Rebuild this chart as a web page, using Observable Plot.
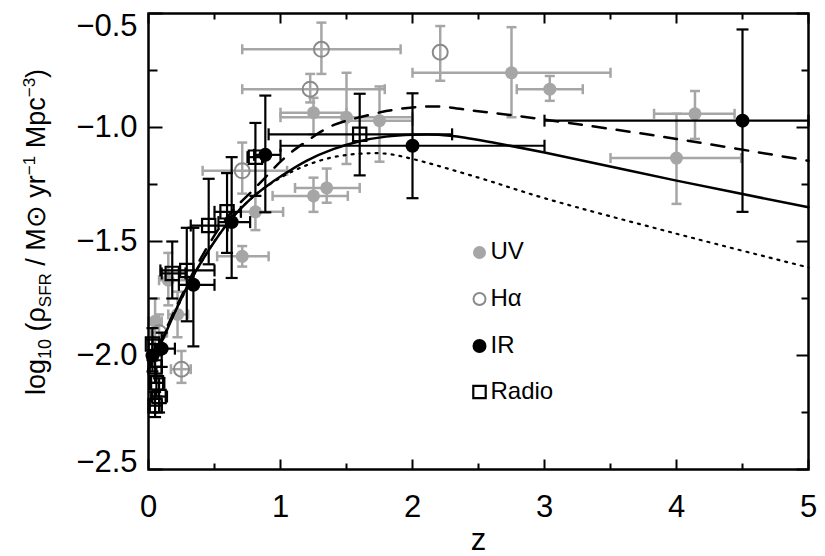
<!DOCTYPE html>
<html><head><meta charset="utf-8">
<script src="https://cdn.jsdelivr.net/npm/d3@7"></script>
<script src="https://cdn.jsdelivr.net/npm/@observablehq/plot@0.6"></script>
<style>body{margin:0;background:#fff}#chart{position:absolute;left:0;top:0}</style>
</head><body><div id="chart"></div><script>
// ---- UV (grey filled circles)
const uvZ   = [0.05, 0.15, 0.22, 0.71, 0.81, 1.25, 1.35, 1.25, 1.5, 1.75, 2.75, 3.04, 4.14, 4.0];
const uvV   = [-1.85, -1.67, -1.82, -1.565, -1.37, -1.30, -1.265, -0.935, -0.955, -0.97, -0.76, -0.832, -0.94, -1.134];
const uvZlo = [0.0, 0.08, 0.15, 0.52, 0.70, 0.94, 1.11, 1.0, 1.0, 1.5, 2.0, 2.79, 3.83, 3.5];
const uvZhi = [0.1, 0.3, 0.3, 0.91, 1.02, 1.51, 1.6, 1.5, 2.0, 2.0, 3.5, 3.29, 4.44, 4.49];
const uvVlo = [-1.95, -1.78, -1.92, -1.61, -1.45, -1.37, -1.33, -1.03, -1.16, -1.15, -0.955, -0.883, -1.05, -1.335];
const uvVhi = [-1.75, -1.55, -1.72, -1.52, -1.30, -1.22, -1.18, -0.87, -0.76, -0.82, -0.56, -0.774, -0.84, -0.94];
// ---- H-alpha (grey open circles)
const haZ   = [0.08, 0.25, 0.71, 1.225, 1.31, 2.21];
const haV   = [-1.9, -2.06, -1.19, -0.832, -0.657, -0.67];
const haZlo = [0.02, 0.17, 0.41, 0.71, 0.71, 2.21];
const haZhi = [0.14, 0.32, 1.05, 1.79, 1.91, 2.21];
const haVlo = [-1.98, -2.12, -1.29, -0.89, -0.765, -0.795];
const haVhi = [-1.82, -1.98, -1.066, -0.765, -0.54, -0.555];
// ---- IR (black filled circles)
const irZ   = [0.03, 0.10, 0.34, 0.63, 0.885, 2.0, 4.5];
const irV   = [-2.0, -1.97, -1.69, -1.415, -1.12, -1.08, -0.97];
const irZlo = [0.0, 0.05, 0.23, 0.53, 0.8, 1.0, 3.0];
const irZhi = [0.06, 0.2, 0.5, 0.77, 1.0, 3.0, 5.0];
const irVlo = [-2.07, -2.05, -1.96, -1.66, -1.372, -1.31, -1.37];
const irVhi = [-1.93, -1.9, -1.44, -1.13, -0.86, -0.85, -0.57];
// ---- Radio (black open squares)
const rdZ   = [0.03, 0.05, 0.06, 0.08, 0.05, 0.18, 0.29, 0.456, 0.595, 0.81, 1.6];
const rdV   = [-1.95, -2.05, -2.12, -2.18, -2.22, -1.64, -1.627, -1.43, -1.37, -1.13, -1.03];
const rdZlo = [0.0, 0.01, 0.02, 0.02, 0.01, 0.1, 0.09, 0.32, 0.5, 0.75, 0.91];
const rdZhi = [0.08, 0.1, 0.12, 0.14, 0.1, 0.28, 0.5, 0.6, 0.7, 0.87, 2.3];
const rdVlo = [-2.02, -2.12, -2.18, -2.25, -2.27, -1.75, -1.85, -1.6, -1.55, -1.3, -1.21];
const rdVhi = [-1.88, -1.98, -2.05, -2.1, -2.16, -1.5, -1.44, -1.225, -1.2, -0.98, -0.852];
// ---- model curves
const solidZ  = [0, 0.1, 0.2, 0.3, 0.4, 0.5, 0.6, 0.7, 0.8, 0.9, 1.0, 1.2, 1.4, 1.6, 1.8, 2.0, 2.2, 2.4, 2.6, 3.0, 4.0, 5.0];
const solidV  = [-2.06, -1.94, -1.81, -1.69, -1.59, -1.50, -1.42, -1.355, -1.30, -1.255, -1.215, -1.145, -1.095, -1.06, -1.04, -1.032, -1.032, -1.045, -1.065, -1.11, -1.233, -1.35];
const dashZ   = [0, 0.2, 0.4, 0.6, 0.8, 0.9, 1.0, 1.1, 1.2, 1.3, 1.4, 1.5, 1.6, 1.8, 2.0, 2.2, 2.45, 3.0, 4.0, 5.0];
const dashV   = [-2.06, -1.80, -1.57, -1.39, -1.27, -1.21, -1.15, -1.10, -1.06, -1.02, -0.99, -0.97, -0.955, -0.928, -0.912, -0.908, -0.925, -0.965, -1.05, -1.146];
const dotZ    = [0, 0.2, 0.4, 0.6, 0.8, 1.0, 1.2, 1.4, 1.6, 1.8, 2.0, 2.5, 3.0, 4.0, 5.0];
const dotV    = [-2.06, -1.81, -1.59, -1.42, -1.30, -1.22, -1.165, -1.13, -1.115, -1.115, -1.138, -1.22, -1.31, -1.466, -1.614];
// ---- axes
const xTickLabels = [0, 1, 2, 3, 4, 5];
const xMinor = [0.5, 1.5, 2.5, 3.5, 4.5];
const yTickLabels = [-2.5, -2.0, -1.5, -1.0, -0.5];
const yMinor = [-2.25, -1.75, -1.25, -0.75];
const legendLabels = ["UV", "H\u03b1", "IR", "Radio"];

const rows = (Z, V, ZL, ZH, VL, VH) => Z.map((z, i) => ({z, v: V[i], zlo: ZL[i], zhi: ZH[i], vlo: VL[i], vhi: VH[i]}));
const uv = rows(uvZ, uvV, uvZlo, uvZhi, uvVlo, uvVhi);
const ha = rows(haZ, haV, haZlo, haZhi, haVlo, haVhi);
const ir = rows(irZ, irV, irZlo, irZhi, irVlo, irVhi);
const rd = rows(rdZ, rdV, rdZlo, rdZhi, rdVlo, rdVhi);
const line = (Z, V) => Z.map((z, i) => ({z, v: V[i]}));

const seg = (dx, dy) => ({draw(ctx, size) { const L = Math.sqrt(size / Math.PI); ctx.moveTo(0, 0); ctx.lineTo(dx * L, dy * L); }});
const bar = (dx, dy) => ({draw(ctx, size) { const L = Math.sqrt(size / Math.PI); ctx.moveTo(-dx * L, -dy * L); ctx.lineTo(dx * L, dy * L); }});
const hcap = bar(1, 0), vcap = bar(0, 1);

function errorMarks(data, color, w, cap) {
  const hx = data.filter(d => d.zhi > d.zlo), vy = data.filter(d => d.vhi > d.vlo);
  return [
    Plot.ruleY(hx, {y: "v", x1: "zlo", x2: "zhi", stroke: color, strokeWidth: w}),
    Plot.ruleX(vy, {x: "z", y1: "vlo", y2: "vhi", stroke: color, strokeWidth: w}),
    Plot.dot(hx, {x: "zlo", y: "v", symbol: vcap, r: cap, stroke: color, strokeWidth: w, fill: "none"}),
    Plot.dot(hx, {x: "zhi", y: "v", symbol: vcap, r: cap, stroke: color, strokeWidth: w, fill: "none"}),
    Plot.dot(vy, {x: "z", y: "vlo", symbol: hcap, r: cap, stroke: color, strokeWidth: w, fill: "none"}),
    Plot.dot(vy, {x: "z", y: "vhi", symbol: hcap, r: cap, stroke: color, strokeWidth: w, fill: "none"})
  ];
}

const GRAY = "#a6a6a6", HAG = "#8a8a8a";
const FONT = "'Liberation Sans', Arial, Helvetica, sans-serif";
const legendY = [239, 285.5, 332.5, 378.5];
const legendMarks = [];
legendMarks.push(Plot.dot([0], {frameAnchor: "top-left", dx: 331, dy: legendY[0], r: 6.5, fill: GRAY}));
legendMarks.push(Plot.dot([0], {frameAnchor: "top-left", dx: 331, dy: legendY[1], r: 6, stroke: HAG, strokeWidth: 2, fill: "none"}));
legendMarks.push(Plot.dot([0], {frameAnchor: "top-left", dx: 331, dy: legendY[2], r: 7, fill: "black"}));
legendMarks.push(Plot.dot([0], {frameAnchor: "top-left", dx: 331, dy: legendY[3], r: 7, symbol: "square", stroke: "black", strokeWidth: 2.2, fill: "none"}));
legendLabels.forEach((t, i) => legendMarks.push(Plot.text([t], {frameAnchor: "top-left", lineAnchor: "middle", dx: 342, dy: legendY[i] - 1, text: d => d, textAnchor: "start", fontSize: 24, fill: "black"})));

const fmtY = d3.format(".1f");
const yMid = yTickLabels.slice(1, -1), yBot = [yTickLabels[0]], yTop = [yTickLabels[yTickLabels.length - 1]];
const yLabel = (data, dy) => Plot.text(data, {y: d => d, frameAnchor: "left", dx: -11, dy, text: fmtY, textAnchor: "end", lineAnchor: "middle", fontSize: 31, fill: "black"});

const plot = Plot.plot({
  width: 825, height: 556,
  marginLeft: 148, marginRight: 17, marginTop: 13, marginBottom: 87,
  x: {domain: [0, 5]},
  y: {domain: [-2.5, -0.5], axis: null},
  style: {fontFamily: FONT, background: "white", color: "black"},
  marks: [
    ...errorMarks(uv, GRAY, 2.5, 5),
    ...errorMarks(ha, GRAY, 2.5, 5),
    Plot.dot(uv, {x: "z", y: "v", r: 6.5, fill: GRAY}),
    Plot.dot(ha, {x: "z", y: "v", r: 7.5, stroke: HAG, strokeWidth: 2, fill: "none"}),
    Plot.line(line(dotZ, dotV), {x: "z", y: "v", curve: "catmull-rom", stroke: "black", strokeWidth: 2.2, strokeDasharray: "2,6"}),
    Plot.line(line(dashZ, dashV), {x: "z", y: "v", curve: "catmull-rom", stroke: "black", strokeWidth: 2.5, strokeDasharray: "13,11"}),
    Plot.line(line(solidZ, solidV), {x: "z", y: "v", curve: "catmull-rom", stroke: "black", strokeWidth: 2.5}),
    ...errorMarks(ir, "black", 2.2, 6),
    ...errorMarks(rd, "black", 2.2, 6),
    Plot.dot(ir, {x: "z", y: "v", r: 7, fill: "black"}),
    Plot.dot(rd, {x: "z", y: "v", r: 7.5, symbol: "square", stroke: "black", strokeWidth: 2.2, fill: "none"}),
    ...legendMarks,
    // inward ticks on all four sides
    Plot.dot(xTickLabels, {x: d => d, frameAnchor: "bottom", symbol: seg(0, -1), r: 10, stroke: "black", strokeWidth: 2}),
    Plot.dot(xMinor, {x: d => d, frameAnchor: "bottom", symbol: seg(0, -1), r: 6, stroke: "black", strokeWidth: 2}),
    Plot.dot(xTickLabels, {x: d => d, frameAnchor: "top", symbol: seg(0, 1), r: 10, stroke: "black", strokeWidth: 2}),
    Plot.dot(xMinor, {x: d => d, frameAnchor: "top", symbol: seg(0, 1), r: 6, stroke: "black", strokeWidth: 2}),
    Plot.dot(yTickLabels, {y: d => d, frameAnchor: "left", symbol: seg(1, 0), r: 14, stroke: "black", strokeWidth: 2}),
    Plot.dot(yMinor, {y: d => d, frameAnchor: "left", symbol: seg(1, 0), r: 9, stroke: "black", strokeWidth: 2}),
    Plot.dot(yTickLabels, {y: d => d, frameAnchor: "right", symbol: seg(-1, 0), r: 12, stroke: "black", strokeWidth: 2}),
    Plot.dot(yMinor, {y: d => d, frameAnchor: "right", symbol: seg(-1, 0), r: 7, stroke: "black", strokeWidth: 2}),
    Plot.frame({stroke: "black", strokeWidth: 2.5}),
    Plot.axisX({ticks: xTickLabels, tickSize: 0, tickPadding: 25, fontSize: 31, label: null, tickFormat: d => String(d)}),
    yLabel(yMid, 0),
    yLabel(yTop, 13),
    yLabel(yBot, -7),
    Plot.text(["z"], {frameAnchor: "bottom", dy: 80, text: d => d, fontSize: 31, fill: "black"})
  ]
});
document.getElementById("chart").appendChild(plot);

// y-axis title with sub/superscripts as real text
const svg = d3.select(plot);
const t = svg.append("text")
  .attr("transform", "translate(45,232) rotate(-90)")
  .attr("text-anchor", "middle")
  .attr("font-family", FONT)
  .attr("font-size", 27)
  .attr("fill", "black");
t.append("tspan").text("log");
t.append("tspan").attr("font-size", 18).attr("dy", 6).text("10");
t.append("tspan").attr("dy", -6).text(" (\u03c1");
t.append("tspan").attr("font-size", 17).attr("dy", 6).text("SFR");
t.append("tspan").attr("dy", -6).text(" / M\u2299 yr");
t.append("tspan").attr("font-size", 17).attr("dy", -10).text("\u22121");
t.append("tspan").attr("dy", 10).text(" Mpc");
t.append("tspan").attr("font-size", 17).attr("dy", -10).text("\u22123");
t.append("tspan").attr("dy", 10).text(")");
</script></body></html>
